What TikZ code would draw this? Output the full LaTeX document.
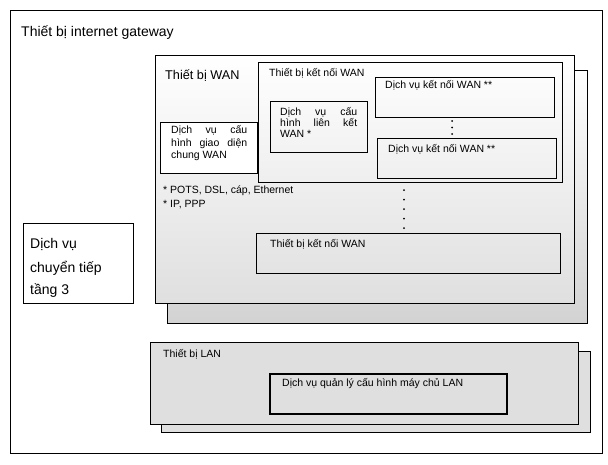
\documentclass[tikz,border=0pt]{standalone}
\usepackage{fontspec}
\setmainfont{Liberation Sans}
\usetikzlibrary{fit}

\begin{document}
\begin{tikzpicture}[x=1pt,y=-1pt,
  khung/.style={draw,line width=1pt,inner sep=0pt},
  chu/.style={anchor=base west,inner sep=0pt,font=\fontsize{10.5}{11}\selectfont},
  chulon/.style={anchor=base west,inner sep=0pt,font=\fontsize{14}{16}\selectfont},
  cham/.style={circle,fill,inner sep=0pt,minimum size=2pt}]
\useasboundingbox (0,0) rectangle (608,464);

\node (GW) [khung,fit={(10,10) (602,453)}]{};
\node (WANb) [khung,top color=white,bottom color=gray!35,fit={(167,70) (587,323)}]{};
\node (WAN) [khung,top color=white,middle color=white,bottom color=gray!25,fit={(155,55) (574,303)}]{};
\node (KN1) [khung,fit={(258,62) (562,182)}]{};
\node (LK) [khung,fit={(270,101) (367,152)}]{};
\node (GD) [khung,fill=white,fit={(160,122) (257,173)}]{};
\node (DV1) [khung,fit={(375,77) (554,117)}]{};
\node (DV2) [khung,fit={(377,138) (556,178)}]{};
\node (KN2) [khung,fit={(256,233) (560,273)}]{};
\node (L3) [khung,fit={(23,223) (133,303)}]{};
\node (LANb) [khung,fill=gray!25,fit={(161,351) (590,432)}]{};
\node (LAN) [khung,fill=gray!25,fit={(150,342) (578,424)}]{};
\node (QL) [khung,line width=1.6pt,fit={(270,374) (507,414)}]{};

\draw (21,36) node[chulon] (GWt) {Thiết bị internet gateway};
\draw (165,79) node[chu,font=\fontsize{12.7}{14}\selectfont] (WANt) {Thiết bị WAN};
\draw (269,76) node[chu] (KN1t) {Thiết bị kết nối WAN};
\draw (385,88) node[chu] (DV1t) {Dịch vụ kết nối WAN **} (388,152) node[chu] (DV2t) {Dịch vụ kết nối WAN **};
\draw (280,115) node[chu] (LKa) {\makebox[77pt][s]{Dịch vụ cấu}} +(0,11) node[chu] (LKb) {\makebox[77pt][s]{hình liên kết}} +(0,22) node[chu] (LKc) {WAN *};
\draw (171,133) node[chu] (GDa) {\makebox[76pt][s]{Dịch vụ cấu}} +(0,13) node[chu] (GDb) {\makebox[76pt][s]{hình giao diện}} +(0,25) node[chu] (GDc) {chung WAN};
\draw (163,193) node[chu] (POTS) {* POTS, DSL, cáp, Ethernet} +(0,14) node[chu] (IP) {* IP, PPP};
\draw (30,248) node[chulon] (L3a) {Dịch vụ} +(0,24) node[chulon] (L3b) {chuyển tiếp} +(0,46) node[chulon] (L3c) {tầng 3};
\draw (270,247) node[chu] (KN2t) {Thiết bị kết nối WAN};
\draw (163,357) node[chu] (LANt) {Thiết bị LAN};
\draw (282,386) node[chu] (QLt) {Dịch vụ quản lý cấu hình máy chủ LAN};

% cham giua cac dich vu
\draw (452,121) node[cham] (B1) {} +(0,6.5) node[cham] (B2) {} +(0,13) node[cham] (B3) {};
\draw (404,190) node[cham] (C1) {} +(0,9.5) node[cham] (C2) {} +(0,19) node[cham] (C3) {} +(0,28.5) node[cham] (C4) {} +(0,38) node[cham] (C5) {};

\end{tikzpicture}
\end{document}
